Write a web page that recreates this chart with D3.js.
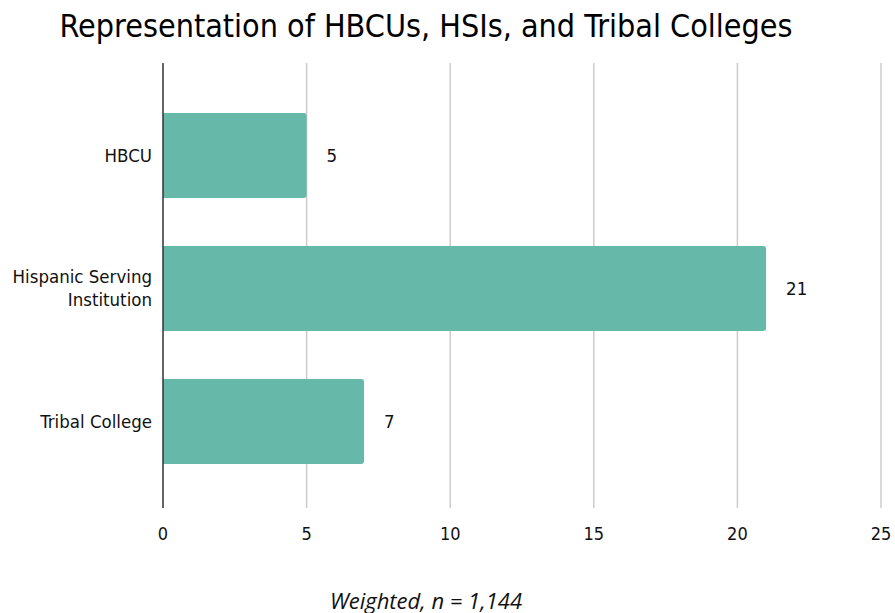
<!DOCTYPE html>
<html>
<head>
<meta charset="utf-8">
<script src="https://cdn.jsdelivr.net/npm/d3@7"></script>
<style>
  body { margin: 0; background: #fff; }
  svg { display: block; font-family: "DejaVu Sans Condensed", "DejaVu Sans", sans-serif; font-stretch: condensed; }
</style>
</head>
<body>
<div id="chart"></div>
<script>
// Data
const categories = [['HBCU'], ['Hispanic Serving', 'Institution'], ['Tribal College']];
const values = [5, 21, 7];
const xTicks = [0, 5, 10, 15, 20, 25];

const W = 895, H = 613;
const plot = { left: 163, right: 881, top: 63, bottom: 508 };

const svg = d3.select('#chart').append('svg')
    .attr('width', W)
    .attr('height', H);

const x = d3.scaleLinear().domain([0, 25]).range([plot.left, plot.right]);
const y = d3.scaleBand()
    .domain(d3.range(categories.length))
    .range([plot.top + 2, plot.bottom + 4])
    .paddingInner(0.36)
    .paddingOuter(0.36);

// Title
svg.append('text')
    .attr('x', 426)
    .attr('y', 37)
    .attr('text-anchor', 'middle')
    .style('font-size', '32px')
    .style('fill', '#000')
    .text('Representation of HBCUs, HSIs, and Tribal Colleges');

// Grid lines
svg.append('g')
    .selectAll('line')
    .data(xTicks.filter(d => d > 0))
    .enter().append('line')
    .attr('x1', d => x(d)).attr('x2', d => x(d))
    .attr('y1', plot.top).attr('y2', plot.bottom)
    .attr('stroke', '#cccccc')
    .attr('stroke-width', 1.5);

// Bars
svg.append('g')
    .selectAll('path')
    .data(values)
    .enter().append('path')
    .attr('fill', '#66b8a8')
    .attr('d', (d, i) => {
        const x0 = x(0), x1 = x(d), y0 = y(i), h = y.bandwidth(), r = 3;
        return `M${x0},${y0}H${x1 - r}Q${x1},${y0} ${x1},${y0 + r}V${y0 + h - r}Q${x1},${y0 + h} ${x1 - r},${y0 + h}H${x0}Z`;
    });

// Zero axis line
svg.append('line')
    .attr('x1', x(0)).attr('x2', x(0))
    .attr('y1', plot.top).attr('y2', plot.bottom)
    .attr('stroke', '#333')
    .attr('stroke-width', 1.5);

// Value labels
svg.append('g')
    .selectAll('text')
    .data(values)
    .enter().append('text')
    .attr('x', d => x(d) + 20)
    .attr('y', (d, i) => y(i) + y.bandwidth() / 2)
    .attr('dy', '0.35em')
    .style('font-size', '18.5px')
    .style('fill', '#111')
    .text(d => d);

// Category labels
const catG = svg.append('g');
categories.forEach((lines, i) => {
    const t = catG.append('text')
        .attr('text-anchor', 'end')
        .attr('y', y(i) + y.bandwidth() / 2 - (lines.length - 1) * 11.5)
        .style('font-size', '18.5px')
        .style('fill', '#111');
    lines.forEach((ln, j) => {
        t.append('tspan')
            .attr('x', 152)
            .attr('dy', j === 0 ? '0.35em' : '23px')
            .text(ln);
    });
});

// X tick labels
svg.append('g')
    .selectAll('text')
    .data(xTicks)
    .enter().append('text')
    .attr('x', d => x(d))
    .attr('y', 540)
    .attr('text-anchor', 'middle')
    .style('font-size', '18px')
    .style('fill', '#111')
    .text(d => d);

// Footnote
svg.append('text')
    .attr('x', 426)
    .attr('y', 609)
    .attr('text-anchor', 'middle')
    .style('font-size', '22px')
    .style('font-style', 'italic')
    .style('font-family', '"Open Sans", sans-serif')
    .style('font-stretch', 'normal')
    .style('fill', '#111')
    .text('Weighted, n = 1,144');
</script>
</body>
</html>
